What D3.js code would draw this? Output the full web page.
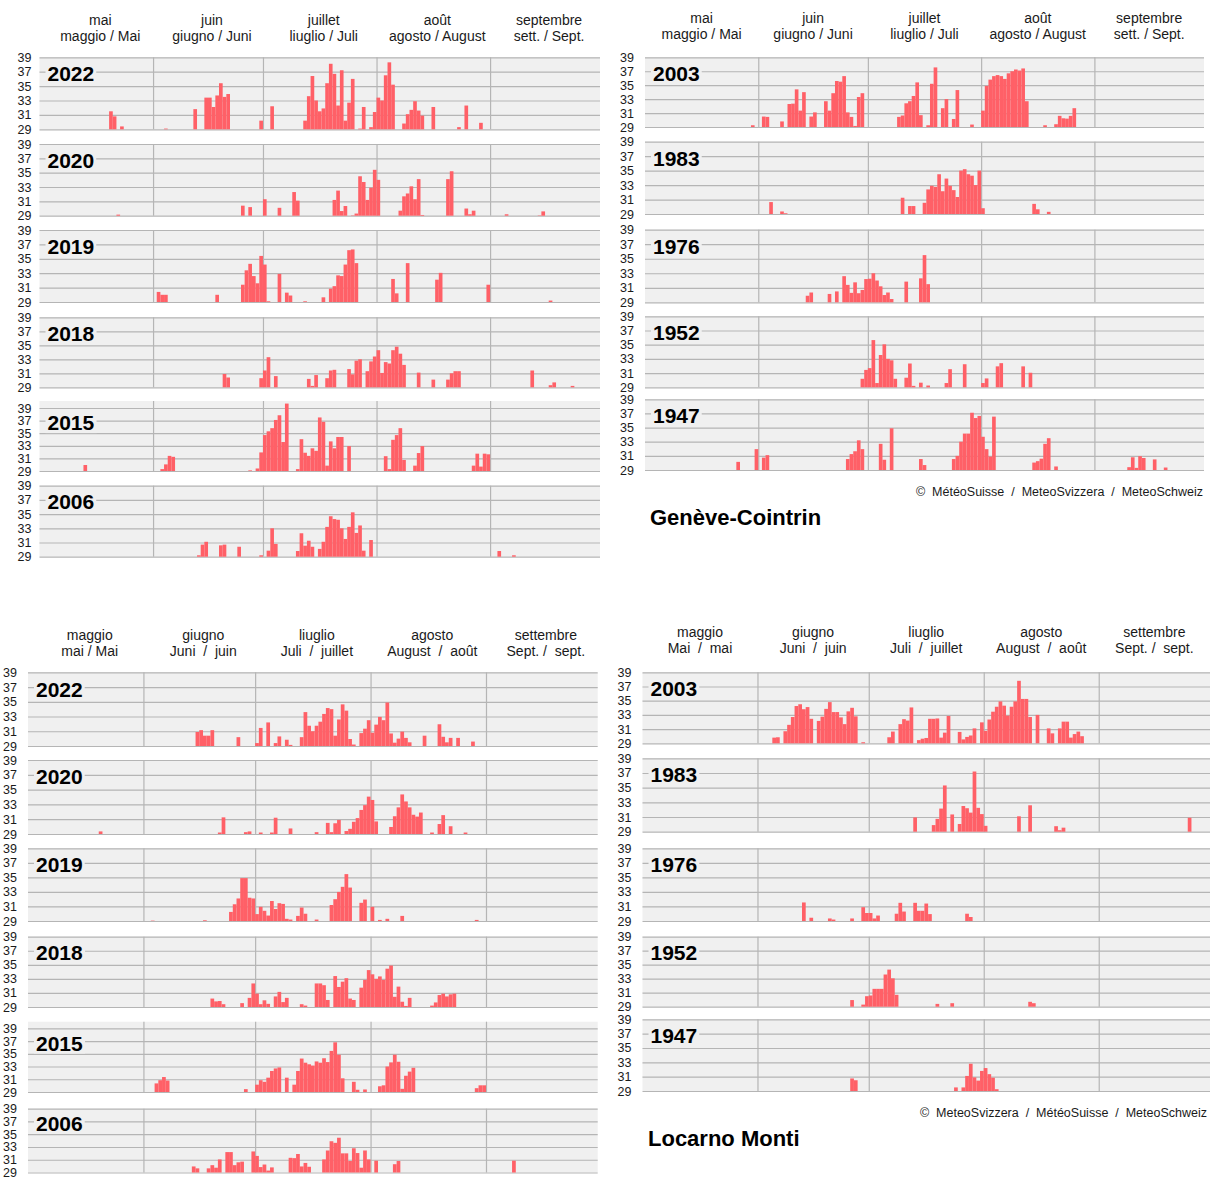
<!DOCTYPE html>
<html>
<head>
<meta charset="utf-8">
<script src="https://cdn.jsdelivr.net/npm/d3@7"></script>
<style>
  body { margin: 0; background: #fff; }
  svg { display: block; font-family: "Liberation Sans", Arial, sans-serif; }
  text { white-space: pre; }
</style>
</head>
<body>
<svg id="chart" width="1210" height="1180"></svg>
<script>
// Day index of the summer half-year: 0 = 1 May ... 152 = 30 September.
const monthStarts = [0, 31, 61, 92, 123, 153];
const tempTicks = [29, 31, 33, 35, 37, 39];

const monthsGeneve = [["mai", "maggio / Mai"], ["juin", "giugno / Juni"], ["juillet", "liuglio / Juli"], ["août", "agosto / August"], ["septembre", "sett. / Sept."]];
const monthsLocarnoA = [["maggio", "mai / Mai"], ["giugno", "Juni  /  juin"], ["liuglio", "Juli  /  juillet"], ["agosto", "August  /  août"], ["settembre", "Sept. /  sept."]];
const monthsLocarnoB = [["maggio", "Mai  /  mai"], ["giugno", "Juni  /  juin"], ["liuglio", "Juli  /  juillet"], ["agosto", "August  /  août"], ["settembre", "Sept. /  sept."]];

// Daily maximum temperature (°C) on days reaching 29 °C or more: [day index, Tmax]
// Genève-Cointrin
const gve2022 = [[19,31.5],[20,30.8],[22,29.4],[34,29.1],[42,31.8],[45,33.4],[46,33.4],[47,32.1],[48,33.7],[49,35.4],[50,33.5],[51,33.9],[60,30.2],[63,32.2],[72,30.2],[73,33.6],[74,36.4],[75,33.0],[76,31.5],[77,31.9],[78,35.4],[79,38.1],[80,36.7],[81,32.3],[82,37.2],[83,30.2],[84,32.7],[85,36.0],[87,29.1],[88,32.1],[90,29.3],[91,31.4],[92,33.4],[93,33.0],[94,36.5],[95,38.3],[96,35.2],[99,29.8],[100,31.1],[101,31.7],[102,32.9],[103,31.6],[104,30.9],[107,32.1],[114,29.3],[116,32.3],[120,29.9]];
const gve2020 = [[21,29.15],[55,30.4],[57,30.2],[61,31.3],[65,30.1],[69,32.3],[70,31.1],[80,31.2],[81,32.5],[82,29.65],[83,30.35],[85,29.05],[86,29.3],[87,34.5],[88,33.7],[89,31.2],[90,32.9],[91,35.4],[92,34.0],[98,29.7],[99,31.7],[100,32.1],[101,33.1],[102,31.3],[103,34.1],[104,29.1],[111,34.1],[112,35.2],[116,30.0],[117,29.2],[118,29.7],[127,29.2],[136,29.05],[137,29.6]];
const gve2019 = [[32,30.4],[33,30.0],[34,30.0],[48,30.0],[55,31.4],[56,33.4],[57,34.3],[58,32.6],[59,31.6],[60,35.4],[61,34.2],[62,29.1],[65,32.9],[67,30.3],[68,29.9],[72,29.1],[77,29.65],[79,30.85],[80,31.2],[81,32.7],[82,32.6],[83,34.2],[84,36.2],[85,36.3],[86,34.4],[96,32.2],[97,30.2],[100,34.4],[108,32.1],[109,33.05],[122,31.4],[139,29.2]];
const gve2018 = [[50,30.9],[51,30.4],[60,30.3],[61,31.4],[62,33.3],[64,30.6],[73,30.2],[74,29.2],[75,30.75],[78,30.3],[79,31.4],[80,31.5],[84,31.6],[85,30.85],[86,32.8],[87,33.0],[89,31.3],[90,32.7],[91,33.4],[92,34.3],[93,31.05],[94,32.6],[95,32.4],[96,34.3],[97,34.8],[98,33.8],[99,32.2],[103,31.1],[107,30.1],[111,30.1],[112,31.0],[113,31.3],[114,31.3],[134,31.4],[139,29.3],[140,29.7],[145,29.2]];
const gve2015 = [[12,29.95],[33,29.3],[34,30.05],[35,31.4],[36,31.25],[57,29.1],[59,29.4],[60,31.95],[61,34.7],[62,35.3],[63,35.8],[64,37.1],[65,37.85],[66,33.6],[67,39.7],[70,29.3],[71,34.05],[72,31.9],[73,31.4],[74,32.6],[75,32.2],[76,37.5],[77,36.8],[78,29.85],[79,33.7],[80,32.6],[81,34.4],[82,34.4],[84,32.95],[94,31.35],[95,29.3],[96,33.95],[97,34.7],[98,35.8],[99,30.75],[102,29.85],[103,31.85],[104,32.95],[118,29.85],[119,31.75],[120,29.7],[121,31.75],[122,31.65]];
const gve2006 = [[43,29.2],[44,30.7],[45,31.1],[49,30.6],[50,30.7],[54,30.4],[60,29.2],[62,29.85],[63,33.0],[64,30.8],[70,29.8],[71,32.3],[72,30.55],[73,31.25],[74,30.4],[76,30.1],[77,31.1],[78,33.2],[79,34.7],[80,34.3],[81,34.2],[82,33.0],[83,31.5],[84,33.2],[85,35.25],[86,32.35],[87,33.4],[88,29.85],[90,31.35],[125,29.8],[129,29.2]];
const gve2003 = [[29,29.25],[32,30.5],[33,30.45],[37,29.8],[39,32.3],[40,32.35],[41,34.4],[42,31.35],[43,34.0],[45,30.5],[46,31.1],[49,32.7],[50,31.35],[51,33.85],[52,35.6],[53,35.5],[54,36.3],[55,31.1],[56,30.45],[57,29.15],[58,33.3],[59,33.85],[69,30.45],[70,30.65],[71,32.4],[72,32.7],[73,33.45],[74,35.4],[75,30.7],[77,29.25],[78,35.2],[79,37.55],[81,31.7],[82,33.0],[84,30.15],[85,34.3],[89,29.35],[92,31.35],[93,34.9],[94,35.8],[95,36.3],[96,36.45],[97,36.3],[98,35.9],[99,36.7],[100,37.0],[101,37.25],[102,37.1],[103,37.4],[104,32.7],[109,29.25],[112,29.4],[113,30.6],[114,30.25],[115,30.2],[116,30.6],[117,31.7]];
const gve1983 = [[34,30.65],[37,29.35],[38,29.1],[70,31.25],[72,30.1],[73,30.1],[76,30.55],[77,32.4],[78,32.9],[79,32.75],[80,34.5],[81,32.15],[82,33.9],[83,32.9],[84,32.3],[85,31.35],[86,35.0],[87,35.2],[88,34.5],[89,34.3],[90,33.0],[91,35.0],[92,29.8],[106,30.4],[107,29.65],[110,29.3]];
const gve1976 = [[44,29.9],[45,30.35],[50,30.15],[52,30.5],[54,32.6],[55,31.4],[56,30.3],[57,31.75],[58,30.25],[59,30.7],[60,32.2],[61,32.25],[62,33.0],[63,32.0],[64,31.2],[65,30.0],[66,30.35],[67,29.45],[71,31.85],[75,32.3],[76,35.5],[77,31.5]];
const gve1952 = [[59,30.2],[60,31.45],[61,31.7],[62,35.65],[63,29.6],[64,33.55],[65,35.05],[66,33.0],[67,32.8],[68,30.2],[71,30.35],[72,32.35],[73,29.2],[75,29.65],[77,29.25],[82,29.6],[83,31.55],[87,32.25],[92,29.6],[93,30.25],[96,31.95],[97,32.4],[103,31.95],[105,31.05]];
const gve1947 = [[25,30.15],[30,31.95],[32,30.75],[33,31.1],[55,30.55],[56,31.25],[57,31.65],[58,33.2],[59,31.95],[64,32.7],[65,30.45],[67,34.9],[75,30.55],[76,29.7],[84,30.55],[85,31.0],[86,33.0],[87,34.15],[88,34.15],[89,37.1],[90,36.35],[91,36.65],[92,33.7],[93,31.95],[94,30.9],[95,36.55],[106,30.05],[107,30.25],[108,30.6],[109,32.7],[110,33.5],[112,29.5],[132,29.4],[133,30.8],[134,29.3],[135,30.95],[136,30.7],[139,30.5],[142,29.35]];

// Locarno Monti
const otl2022 = [[45,30.9],[46,31.15],[47,30.4],[48,30.4],[49,31.15],[56,30.2],[61,29.4],[62,31.45],[64,32.2],[66,29.4],[67,30.3],[69,29.85],[70,29.15],[73,30.2],[74,33.6],[75,31.75],[76,31.0],[77,31.75],[78,32.3],[79,33.35],[80,34.15],[81,34.0],[82,30.4],[83,32.6],[84,34.65],[85,33.8],[86,29.95],[87,29.2],[89,30.75],[90,31.35],[91,32.5],[92,30.8],[93,31.9],[94,32.95],[95,32.5],[96,34.9],[97,30.7],[98,29.45],[99,30.0],[100,30.95],[101,30.1],[102,29.5],[106,30.4],[110,31.95],[111,30.25],[112,29.5],[113,30.1],[115,30.1],[119,29.6]];
const otl2020 = [[19,29.35],[51,29.2],[52,31.25],[58,29.25],[59,29.35],[62,29.2],[65,29.2],[66,31.2],[70,29.75],[77,29.25],[80,30.5],[81,29.25],[82,30.45],[83,30.9],[85,29.4],[86,29.7],[87,30.65],[88,31.15],[89,32.25],[90,32.9],[91,34.05],[92,33.6],[93,30.7],[97,29.95],[98,31.4],[99,32.6],[100,34.35],[101,33.4],[102,32.6],[103,31.6],[104,31.35],[105,31.9],[108,29.2],[110,30.35],[111,31.55],[113,30.05],[117,29.2]];
const otl2019 = [[33,29.05],[47,29.1],[54,30.25],[55,31.3],[56,32.1],[57,34.9],[58,34.9],[59,32.2],[60,32.1],[61,29.95],[62,30.95],[63,30.4],[64,29.75],[65,31.75],[66,30.65],[67,31.45],[68,31.35],[69,29.3],[70,29.2],[72,29.7],[73,30.85],[74,30.0],[77,29.2],[81,31.2],[82,32.0],[83,33.0],[84,33.7],[85,35.45],[86,33.6],[89,31.5],[90,31.95],[92,30.95],[94,29.15],[96,29.3],[100,29.7],[120,29.15]];
const otl2018 = [[49,30.2],[50,29.8],[51,29.85],[52,29.4],[57,29.55],[59,30.3],[60,32.35],[61,30.9],[62,29.4],[63,29.95],[64,29.45],[66,30.5],[67,31.15],[68,29.7],[69,30.3],[73,29.4],[74,29.2],[77,32.35],[78,32.35],[79,32.1],[80,30.0],[82,33.4],[83,31.85],[84,32.6],[85,33.1],[86,30.2],[87,30.0],[89,31.75],[90,32.85],[91,34.25],[92,33.65],[93,33.0],[94,33.35],[95,32.85],[96,34.45],[97,34.9],[98,30.45],[99,31.9],[100,29.75],[101,29.15],[102,30.3],[108,29.2],[109,29.65],[110,30.7],[111,30.9],[112,30.5],[113,30.8],[114,30.9]];
const otl2015 = [[34,30.35],[35,30.85],[36,31.35],[37,30.8],[58,29.45],[61,30.15],[62,30.85],[63,30.6],[64,31.25],[65,32.3],[66,32.7],[67,32.85],[69,31.25],[71,30.15],[72,32.3],[73,34.25],[74,33.6],[75,33.35],[76,33.15],[77,33.8],[78,33.6],[79,34.3],[80,33.7],[81,35.45],[82,36.8],[83,34.85],[84,31.15],[87,30.6],[88,29.35],[90,29.4],[94,29.9],[95,30.05],[96,33.0],[97,33.65],[98,34.85],[99,33.75],[100,29.5],[101,31.55],[102,32.2],[103,32.8],[120,29.6],[121,30.05],[122,30.05]];
const otl2006 = [[44,29.95],[45,29.65],[48,29.65],[49,30.15],[50,29.75],[51,31.05],[53,32.2],[54,32.2],[55,30.15],[56,30.6],[57,30.7],[60,32.3],[61,31.6],[62,29.85],[63,30.25],[64,29.3],[65,29.8],[70,31.3],[71,31.25],[72,31.9],[73,29.95],[74,30.5],[75,29.9],[79,31.05],[80,32.45],[81,33.9],[82,33.65],[83,34.45],[84,32.0],[85,32.0],[86,30.8],[87,32.8],[88,32.05],[89,29.75],[90,32.45],[91,31.05],[93,30.85],[98,30.3],[99,30.8],[130,30.85]];
const otl2003 = [[35,29.8],[36,29.85],[38,30.7],[39,31.6],[40,32.7],[41,34.25],[42,34.5],[43,33.8],[44,34.1],[45,32.45],[47,32.15],[48,32.75],[49,33.85],[50,34.8],[51,33.4],[52,33.4],[53,32.65],[54,31.7],[55,33.5],[56,34.0],[57,32.8],[59,29.15],[66,29.85],[67,30.65],[69,31.7],[70,32.4],[71,32.2],[72,34.05],[74,29.45],[75,29.65],[76,29.75],[77,32.45],[78,32.45],[79,32.5],[80,29.8],[81,30.5],[82,32.85],[85,30.6],[86,29.55],[87,29.9],[88,30.1],[89,31.1],[91,31.95],[92,30.75],[93,32.35],[94,33.45],[95,34.15],[96,34.9],[97,34.3],[98,32.9],[99,34.15],[100,34.9],[101,37.8],[102,35.25],[103,35.25],[104,32.7],[106,33.0],[109,31.1],[110,30.4],[112,31.1],[113,32.05],[114,32.05],[115,29.8],[116,30.3],[117,30.65],[118,30.0]];
const otl1983 = [[73,30.95],[78,29.9],[79,30.75],[80,32.15],[81,35.3],[83,31.35],[85,30.05],[86,32.5],[87,32.2],[88,31.6],[89,37.2],[90,32.25],[91,31.4],[92,29.8],[101,31.1],[104,32.6],[111,29.75],[112,29.2],[113,29.55],[147,30.9]];
const otl1976 = [[43,31.55],[45,29.45],[50,29.35],[51,29.2],[56,29.35],[59,30.9],[60,30.1],[61,30.1],[62,29.35],[63,29.75],[68,30.0],[69,31.5],[70,30.3],[73,31.5],[74,30.4],[75,30.4],[76,31.4],[77,29.95],[87,30.0],[88,29.55]];
const otl1952 = [[56,29.95],[59,29.3],[60,30.5],[61,30.6],[62,31.55],[63,31.55],[64,31.55],[65,33.6],[66,34.3],[67,33.05],[68,30.7],[79,29.4],[83,29.5],[104,29.7],[105,29.5]];
const otl1947 = [[56,30.75],[57,30.5],[84,29.5],[86,29.5],[87,31.1],[88,32.8],[89,30.9],[90,30.45],[91,31.8],[92,32.2],[93,31.35],[94,30.85],[95,29.25]];

// Page layout: one block per station and period
const panels = [
  { months: monthsGeneve, x0: 39.5, x1: 600, head: 25, headDx: 4, tickGap: 8,
    rows: [
      { year: "2022", data: gve2022, y39: 57.3,  y29: 129.3 },
      { year: "2020", data: gve2020, y39: 144,   y29: 215.7 },
      { year: "2019", data: gve2019, y39: 230,   y29: 302 },
      { year: "2018", data: gve2018, y39: 317.3, y29: 387.3 },
      { year: "2015", data: gve2015, y39: 408,   y29: 471, top: 401 },
      { year: "2006", data: gve2006, y39: 485.7, y29: 556.7 }
    ] },
  { months: monthsGeneve, x0: 645, x1: 1204, head: 22.5, headDx: 0, tickGap: 11,
    rows: [
      { year: "2003", data: gve2003, y39: 57.3,  y29: 127 },
      { year: "1983", data: gve1983, y39: 141.7, y29: 214 },
      { year: "1976", data: gve1976, y39: 229.7, y29: 302.3 },
      { year: "1952", data: gve1952, y39: 316.3, y29: 387.3 },
      { year: "1947", data: gve1947, y39: 399.3, y29: 470 }
    ],
    credit: { text: "©  MétéoSuisse  /  MeteoSvizzera  /  MeteoSchweiz", x: 1203, y: 496 },
    station: { text: "Genève-Cointrin", x: 650, y: 525 } },
  { months: monthsLocarnoA, x0: 28, x1: 597.7, head: 640, headDx: 4, tickGap: 11,
    rows: [
      { year: "2022", data: otl2022, y39: 672.3,  y29: 746 },
      { year: "2020", data: otl2020, y39: 760,    y29: 834 },
      { year: "2019", data: otl2019, y39: 848.3,  y29: 921 },
      { year: "2018", data: otl2018, y39: 936.7,  y29: 1007 },
      { year: "2015", data: otl2015, y39: 1028.3, y29: 1092, top: 1021.7 },
      { year: "2006", data: otl2006, y39: 1108.7, y29: 1172.5 }
    ] },
  { months: monthsLocarnoB, x0: 642.5, x1: 1210, head: 637.3, headDx: 0, tickGap: 11,
    rows: [
      { year: "2003", data: otl2003, y39: 672.3,  y29: 743.3 },
      { year: "1983", data: otl1983, y39: 758.3,  y29: 831.7 },
      { year: "1976", data: otl1976, y39: 848.3,  y29: 921 },
      { year: "1952", data: otl1952, y39: 936.7,  y29: 1006.7 },
      { year: "1947", data: otl1947, y39: 1019.3, y29: 1091 }
    ],
    credit: { text: "©  MeteoSvizzera  /  MétéoSuisse  /  MeteoSchweiz", x: 1207, y: 1117 },
    station: { text: "Locarno Monti", x: 648, y: 1146 } }
];

const BAND = "#f0f0f0", GRID = "#b5b5b5", BAR = "#ff6067", INK = "#1a1a1a";
const svg = d3.select("#chart");

panels.forEach(p => {
  const g = svg.append("g");
  const x = d3.scaleLinear().domain([monthStarts[0], monthStarts[5]]).range([p.x0, p.x1]);

  // month headers (two lines)
  const heads = g.append("g").attr("font-size", 14).attr("fill", INK).attr("text-anchor", "middle");
  p.months.forEach((m, i) => {
    const cx = x((monthStarts[i] + monthStarts[i + 1]) / 2) + p.headDx;
    heads.append("text").attr("x", cx).attr("y", p.head).text(m[0]);
    heads.append("text").attr("x", cx).attr("y", p.head + 16).text(m[1]);
  });

  p.rows.forEach(r => {
    const y = d3.scaleLinear().domain([29, 39]).range([r.y29, r.y39]);
    const top = r.top !== undefined ? r.top : r.y39;
    const row = g.append("g");

    row.append("rect")
      .attr("x", p.x0).attr("y", top)
      .attr("width", p.x1 - p.x0).attr("height", r.y29 - top)
      .attr("fill", BAND);

    // temperature gridlines and labels
    const yAxis = d3.axisLeft(y).tickValues(tempTicks).tickSize(-(p.x1 - p.x0)).tickPadding(p.tickGap).tickFormat(d3.format("d"));
    const ax = row.append("g").attr("transform", `translate(${p.x0},0)`).call(yAxis);
    ax.select(".domain").remove();
    ax.selectAll(".tick line").attr("stroke", GRID).attr("stroke-width", 1.2);
    ax.selectAll(".tick text").attr("font-size", 12.5).attr("fill", INK).attr("font-family", "Liberation Sans, Arial, sans-serif");

    // month separators
    const xAxis = d3.axisBottom(x).tickValues(monthStarts.slice(1, 5)).tickSize(-(r.y29 - top)).tickFormat("");
    const mx = row.append("g").attr("transform", `translate(0,${r.y29})`).call(xAxis);
    mx.select(".domain").remove();
    mx.selectAll(".tick line").attr("stroke", GRID).attr("stroke-width", 1.2);

    // daily bars
    row.append("g").selectAll("rect")
      .data(r.data)
      .join("rect")
      .attr("x", d => x(d[0]))
      .attr("width", d => x(d[0] + 1) - x(d[0]))
      .attr("y", d => y(d[1]))
      .attr("height", d => y(29) - y(d[1]))
      .attr("fill", BAR);

    // year label on a band-coloured plate
    const lab = row.append("g");
    const plate = lab.append("rect").attr("fill", BAND);
    const t = lab.append("text")
      .attr("x", p.x0 + 8).attr("y", y(37) + 9.5)
      .attr("font-size", 21).attr("font-weight", "bold").attr("fill", "#000")
      .text(r.year);
    const bb = t.node().getBBox();
    plate.attr("x", bb.x - 2).attr("y", bb.y + 2).attr("width", bb.width + 4).attr("height", bb.height - 3);
  });

  if (p.credit) {
    g.append("text").attr("x", p.credit.x).attr("y", p.credit.y)
      .attr("text-anchor", "end").attr("font-size", 12.5).attr("fill", INK)
      .text(p.credit.text);
  }
  if (p.station) {
    g.append("text").attr("x", p.station.x).attr("y", p.station.y)
      .attr("font-size", 22).attr("font-weight", "bold").attr("fill", "#000")
      .text(p.station.text);
  }
});
</script>
</body>
</html>
